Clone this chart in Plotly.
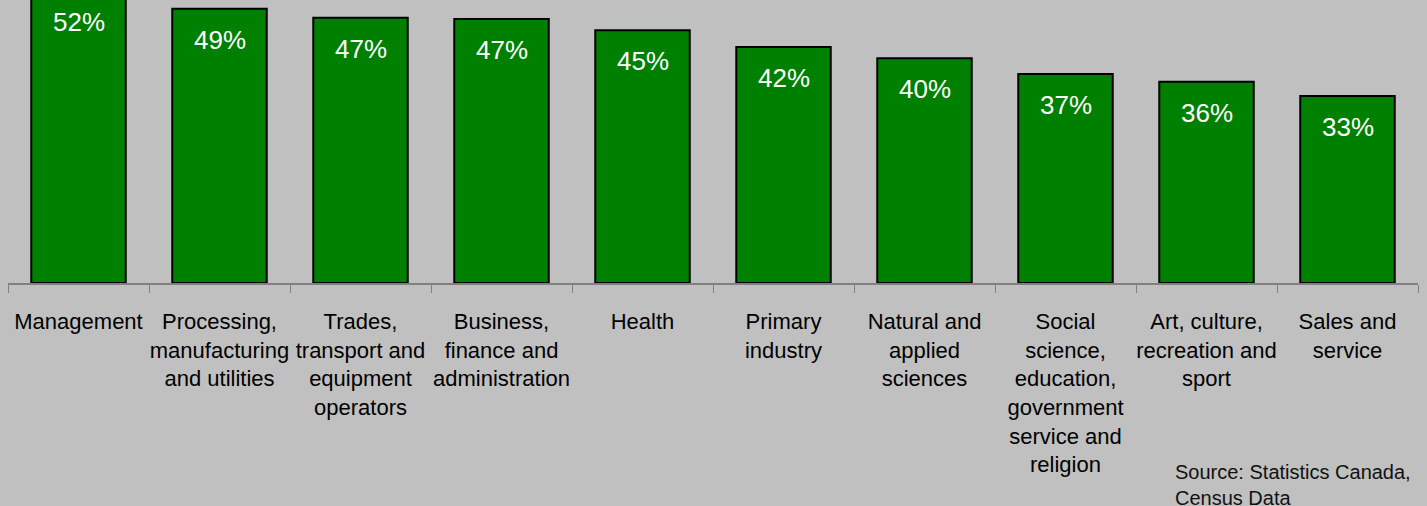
import plotly.graph_objects as go

categories = [
    "Management",
    "Processing,<br>manufacturing<br>and utilities",
    "Trades,<br>transport and<br>equipment<br>operators",
    "Business,<br>finance and<br>administration",
    "Health",
    "Primary<br>industry",
    "Natural and<br>applied<br>sciences",
    "Social<br>science,<br>education,<br>government<br>service and<br>religion",
    "Art, culture,<br>recreation and<br>sport",
    "Sales and<br>service",
]
values = [52, 48.8, 47.2, 47.0, 45.0, 42.0, 40.0, 37.2, 35.8, 33.3]
labels = ["52%", "49%", "47%", "47%", "45%", "42%", "40%", "37%", "36%", "33%"]

FONT = "Liberation Sans, Arial, sans-serif"
SHIFT = 26  # the page shows the chart with its top part cropped away

fig = go.Figure()
fig.add_trace(go.Bar(
    x=categories, y=values,
    marker=dict(color="#008000", line=dict(color="#000000", width=2)),
    width=0.67,
    hoverinfo="skip",
))

for c, v, t in zip(categories, values, labels):
    fig.add_annotation(x=c, y=v, text=t, showarrow=False, yanchor="top",
                       yshift=-14, font=dict(color="white", size=26, family=FONT))

fig.add_annotation(xref="paper", yref="paper", x=0.826, y=-0.568,
                   xanchor="left", yanchor="top", align="left", showarrow=False,
                   text="Source: Statistics Canada,<br>Census Data",
                   font=dict(size=20, color="#111111", family=FONT))

fig.update_layout(
    width=1427, height=506 + SHIFT,
    margin=dict(l=8, r=9, t=0, b=223),
    paper_bgcolor="#C0C0C0", plot_bgcolor="#C0C0C0",
    showlegend=False,
    font=dict(family=FONT, color="#000000"),
    bargap=0.33,
)
fig.update_xaxes(
    type="category", showline=True, linecolor="#808080", linewidth=1.5,
    ticks="outside", tickson="boundaries", ticklen=8, tickcolor="#808080",
    tickangle=0,
    tickfont=dict(size=22, color="#000000", family=FONT), ticklabelstandoff=18,
    showgrid=False, fixedrange=True,
)
fig.update_yaxes(range=[0, 55], visible=False, showgrid=False, fixedrange=True)

post = ("document.body.style.margin='0';document.body.style.overflow='hidden';"
        "document.body.style.background='#C0C0C0';"
        "var gd=document.getElementsByClassName('plotly-graph-div')[0];"
        "gd.style.marginTop='-%dpx';" % SHIFT)
fig.write_html("out.html", post_script=post, config={"displayModeBar": False})
